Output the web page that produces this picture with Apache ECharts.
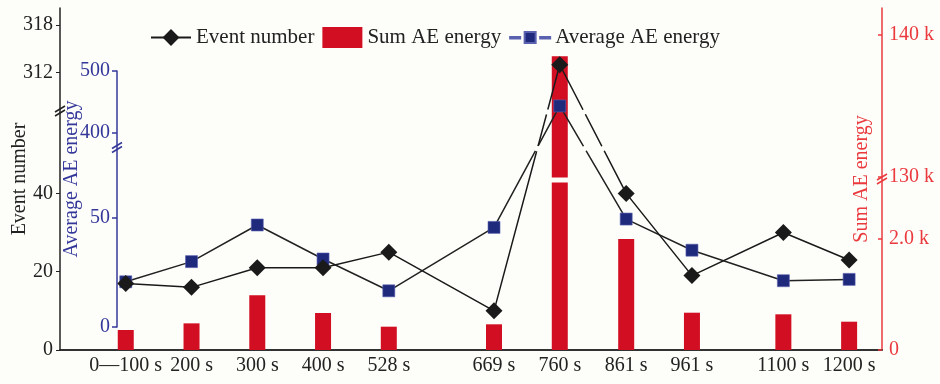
<!DOCTYPE html>
<html><head><meta charset="utf-8">
<script src="https://cdn.jsdelivr.net/npm/echarts@6/dist/echarts.min.js"></script>
<style>html,body{margin:0;padding:0;background:#fdfdf9}#c{width:940px;height:384px}</style>
</head><body><div id="c"></div>
<script>
// ---------------- data ----------------
const categories = ['0\u2014100 s','200 s','300 s','400 s','528 s','669 s','760 s','861 s','961 s','1100 s','1200 s'];
const xPositions = [100,200,300,400,500,660,760,861,961,1100,1200];   // where each category sits on the time axis (s)
const eventNumber = [17,16,21,21,25,10,313,40,19,30,23];
const avgAEEnergy = [20.6,29.8,46.5,31,16.5,45.4,443,49.2,35,21.1,21.7];
const sumAEEnergy = [360,480,985,667,420,463,138500,2000,672,643,510];
const eventTicks = [0,20,40,312,318];
const eventTickLabels = ['0','20','40','312','318'];
const avgTicks = [0,50,400,500];
const avgTickLabels = ['0','50','400','500'];
const sumTicks = [0,2000,130000,140000];
const sumTickLabels = ['0','2.0 k','130 k','140 k'];

// ---------------- broken-axis layout ----------------
const FONT = 'Liberation Serif';
const BG = '#fdfdf9';
const BLACK = '#1a1a1a', BLUE = '#34379a', NAVY = '#1f2a7d', RED = '#d20f22', RED_AX = '#ea3a3e';
const GRID_TOP = 8, GRID_BOTTOM = 34, CH = 384;
const BAR_W = 16;
const PLOT_H = CH - GRID_BOTTOM - GRID_TOP;          // display axis runs 0..PLOT_H
function broken(lo, hi, breakD) {
  const f = v => { const a = lo.d0 + (v - lo.v0) * lo.k; return a <= breakD ? a : hi.d0 + (v - hi.v0) * hi.k; };
  f.breakD = breakD; return f;
}
const F_EVENT = broken({v0:0, d0:0, k:3.915}, {v0:312, d0:277.3, k:7.94}, 238);
const F_AVG   = broken({v0:0, d0:23, k:2.194}, {v0:400, d0:217.7, k:0.613}, 201.5);
const F_SUM   = broken({v0:0, d0:0, k:0.0555}, {v0:130000, d0:173.3, k:0.01417}, 170);
const LINE_BREAKS = [F_EVENT.breakD, F_AVG.breakD];

function lookup(ticks, labels, F) {
  return val => { for (let i = 0; i < ticks.length; i++) if (Math.abs(F(ticks[i]) - val) < 0.01) return labels[i]; return ''; };
}

const chart = echarts.init(document.getElementById('c'));
const txt = (c, s) => ({ color: c, fontFamily: FONT, fontSize: s || 20 });

const barPts = xPositions.map((x, i) => [x, F_SUM(sumAEEnergy[i])]);
const avgPts = xPositions.map((x, i) => [x, F_AVG(avgAEEnergy[i])]);
const evtPts = xPositions.map((x, i) => [x, F_EVENT(eventNumber[i])]);

// white gaps where a polyline crosses an axis break level (not drawn over bars)
function gapSeries(points, yAxisIndex) {
  const segs = [];
  for (let i = 0; i + 1 < points.length; i++) segs.push([points[i][0], points[i][1], points[i + 1][0], points[i + 1][1]]);
  return { type: 'custom', xAxisIndex: 0, yAxisIndex, z: 5, silent: true, encode: { x: [0, 2], y: [1, 3] }, data: segs,
    renderItem: (params, api) => {
      const p1 = api.coord([api.value(0), api.value(1)]), p2 = api.coord([api.value(2), api.value(3)]);
      const kids = [];
      LINE_BREAKS.forEach(bd => {
        const y1 = api.value(1), y2 = api.value(3);
        if ((y1 - bd) * (y2 - bd) < 0) {
          const t = (bd - y1) / (y2 - y1);
          const cx = p1[0] + (p2[0] - p1[0]) * t, cy = p1[1] + (p2[1] - p1[1]) * t;
          const onBar = barPts.some(b => {
            const bx = api.coord([b[0], 0])[0], by = api.coord([b[0], b[1]])[1];
            return Math.abs(cx - bx) <= BAR_W / 2 + 1 && cy >= by - 2;
          });
          if (onBar) return;
          const len = Math.hypot(p2[0] - p1[0], p2[1] - p1[1]), ux = (p2[0] - p1[0]) / len, uy = (p2[1] - p1[1]) / len;
          kids.push({ type: 'line', shape: { x1: cx - ux * 2.5, y1: cy - uy * 2.5, x2: cx + ux * 2.5, y2: cy + uy * 2.5 }, style: { stroke: BG, lineWidth: 4 } });
        }
      });
      return { type: 'group', children: kids };
    } };
}

const option = {
  backgroundColor: BG,
  animation: false,
  grid: [
    { left: 60, right: 58, top: GRID_TOP, bottom: GRID_BOTTOM, outerBoundsMode: 'none' },
    { left: 117, width: 10, top: CH - GRID_BOTTOM - F_AVG(500), bottom: GRID_BOTTOM + F_AVG(0), outerBoundsMode: 'none' }
  ],
  legend: {
    left: 150, top: 27, padding: 0, itemWidth: 40, itemHeight: 21, itemGap: 8,
    textStyle: txt('#222', 21),
    data: [{ name: 'Event number' }, { name: 'Sum AE energy', icon: 'rect' },
           { name: 'Average AE energy', icon: 'path://M0,10h10v1.6h-10z M14.5,5h11v11h-11z M30,10h10v1.6h-10z' }]
  },
  xAxis: [
    { gridIndex: 0, type: 'value', min: 0, max: 1250, position: 'bottom',
      axisLine: { lineStyle: { color: '#333', width: 1.5 } }, axisTick: { show: false }, splitLine: { show: false },
      axisLabel: { customValues: xPositions, formatter: v => categories[xPositions.indexOf(v)], margin: 6, ...txt('#222') } },
    { gridIndex: 0, type: 'value', min: 0, max: 1250, position: 'top',
      axisLine: { lineStyle: { color: '#222', width: 1.5 } }, axisTick: { show: false }, axisLabel: { show: false }, splitLine: { show: false } },
    { gridIndex: 1, type: 'value', show: false }
  ],
  yAxis: [
    { gridIndex: 0, type: 'value', position: 'left', min: 0, max: PLOT_H,
      axisLine: { show: true, lineStyle: { color: '#222', width: 1.5 } },
      axisTick: { show: true, length: 4, customValues: eventTicks.map(F_EVENT), lineStyle: { color: '#222' } },
      axisLabel: { customValues: eventTicks.map(F_EVENT), formatter: lookup(eventTicks, eventTickLabels, F_EVENT), margin: 7, ...txt('#222') },
      splitLine: { show: false },
      name: 'Event number', nameLocation: 'middle', nameGap: 30, nameMoveOverlap: false, nameTextStyle: txt('#222') },
    { gridIndex: 0, type: 'value', position: 'left', offset: -57, min: 0, max: PLOT_H,
      axisLine: { show: false },
      axisTick: { show: true, length: 5, customValues: avgTicks.map(F_AVG), lineStyle: { color: BLUE, width: 1.5 } },
      axisLabel: { customValues: avgTicks.map(F_AVG), formatter: lookup(avgTicks, avgTickLabels, F_AVG), margin: 7, ...txt(BLUE) },
      splitLine: { show: false },
      name: 'Average AE energy', nameLocation: 'middle', nameGap: 35, nameMoveOverlap: false, nameTextStyle: txt(BLUE) },
    { gridIndex: 0, type: 'value', position: 'right', min: 0, max: PLOT_H,
      axisLine: { show: true, lineStyle: { color: RED_AX, width: 1.5 } },
      axisTick: { show: true, inside: true, length: 4, customValues: sumTicks.map(F_SUM), lineStyle: { color: RED_AX, width: 1.5 } },
      axisLabel: { customValues: sumTicks.map(F_SUM), formatter: lookup(sumTicks, sumTickLabels, F_SUM), margin: 7, ...txt(RED_AX) },
      splitLine: { show: false },
      name: 'Sum AE energy', nameLocation: 'middle', nameGap: -30, nameRotate: 90, nameMoveOverlap: false, nameTextStyle: txt(RED_AX) },
    { gridIndex: 1, type: 'value', min: 0, max: 1, position: 'left',
      axisLine: { show: true, lineStyle: { color: BLUE, width: 1.5 } }, axisTick: { show: false }, axisLabel: { show: false }, splitLine: { show: false } }
  ],
  series: [
    { name: 'Sum AE energy', type: 'custom', xAxisIndex: 0, yAxisIndex: 2, z: 1,
      itemStyle: { color: RED },
      encode: { x: 0, y: 1 },
      data: barPts,
      renderItem: (params, api) => {
        const x = api.value(0), d = api.value(1), w = BAR_W;
        const base = api.coord([x, 0]), top = api.coord([x, d]);
        const style = { fill: api.visual('color') };
        const rect = (y0, y1) => ({ type: 'rect', shape: { x: base[0] - w / 2, y: y0, width: w, height: y1 - y0 }, style });
        if (d > F_SUM.breakD) {
          const b1 = api.coord([x, F_SUM.breakD - 2.5]), b2 = api.coord([x, F_SUM.breakD + 2.5]);
          return { type: 'group', children: [rect(b1[1], base[1]), rect(top[1], b2[1])] };
        }
        return rect(top[1], base[1]);
      } },
    { name: 'Average AE energy', type: 'line', xAxisIndex: 0, yAxisIndex: 1, z: 3,
      symbol: 'rect', symbolSize: 12,
      itemStyle: { color: NAVY, borderColor: '#5a62b0', borderWidth: 0.6 },
      lineStyle: { color: '#222', width: 1.5 },
      data: avgPts },
    { name: 'Event number', type: 'line', xAxisIndex: 0, yAxisIndex: 0, z: 4,
      symbol: 'diamond', symbolSize: 17,
      itemStyle: { color: BLACK },
      lineStyle: { color: BLACK, width: 1.5 },
      data: evtPts },
    gapSeries(avgPts, 1),
    gapSeries(evtPts, 0)
  ]
};
chart.setOption(option);

// axis break marks "//"
function breakMark(x, y, color) {
  return { type: 'group', z: 100, children: [
    { type: 'polygon', shape: { points: [[x - 5, y + 2], [x + 5, y - 4], [x + 5, y], [x - 5, y + 6]] }, style: { fill: BG } },
    { type: 'line', shape: { x1: x - 5, y1: y + 2, x2: x + 5, y2: y - 4 }, style: { stroke: color, lineWidth: 1.5 } },
    { type: 'line', shape: { x1: x - 5, y1: y + 6, x2: x + 5, y2: y }, style: { stroke: color, lineWidth: 1.5 } }
  ] };
}
const yOf = d => CH - GRID_BOTTOM - d;
chart.setOption({ graphic: [
  breakMark(60, yOf(F_EVENT.breakD) - 2, '#222'),
  breakMark(117, yOf(F_AVG.breakD) - 2, BLUE),
  breakMark(882, yOf(F_SUM.breakD) - 2, RED_AX)
] });
</script></body></html>
